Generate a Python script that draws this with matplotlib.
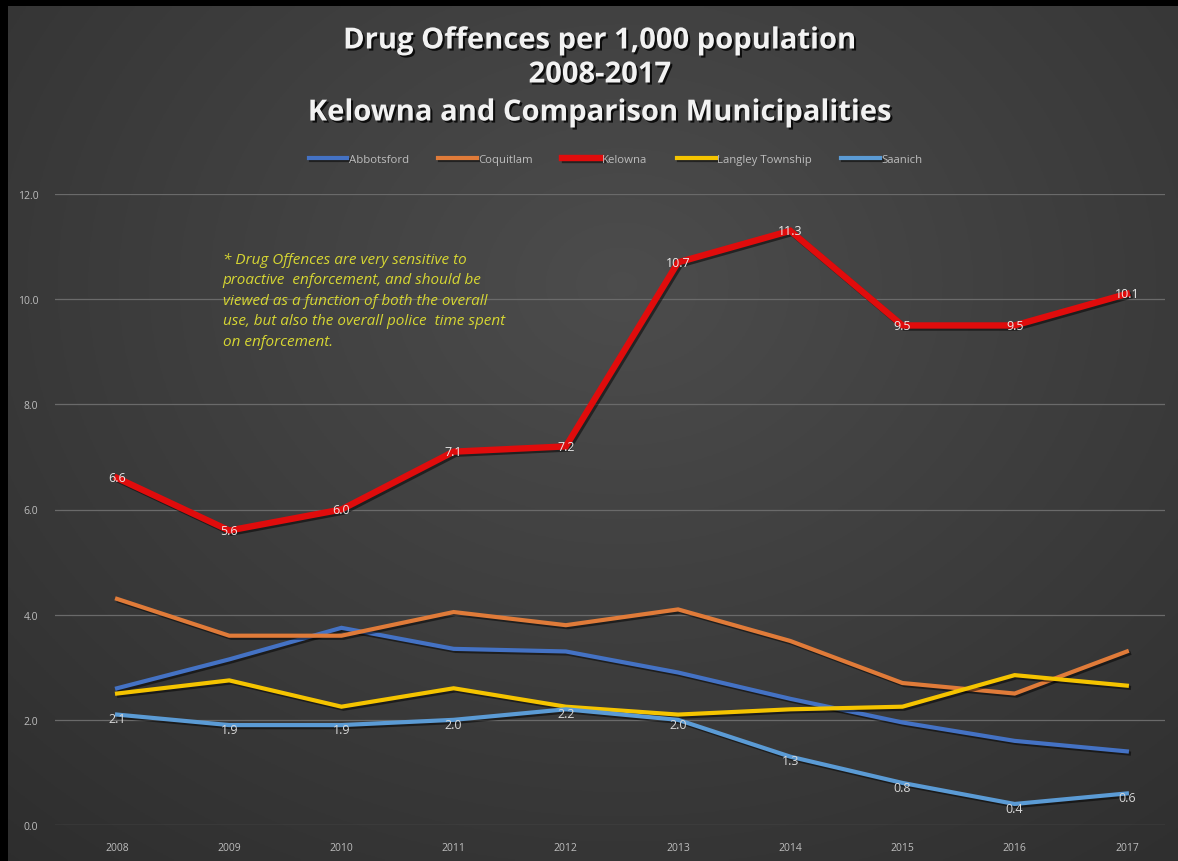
import numpy as np
import matplotlib.pyplot as plt
import matplotlib.patheffects as pe

# data
years = ['2008', '2009', '2010', '2011', '2012', '2013', '2014', '2015', '2016', '2017']
abbotsford = [2.6, 3.15, 3.75, 3.35, 3.3, 2.9, 2.4, 1.95, 1.6, 1.4]
coquitlam = [4.3, 3.6, 3.6, 4.05, 3.8, 4.1, 3.5, 2.7, 2.5, 3.3]
kelowna = [6.6, 5.6, 6.0, 7.1, 7.2, 10.7, 11.3, 9.5, 9.5, 10.1]
langley = [2.5, 2.75, 2.25, 2.6, 2.25, 2.1, 2.2, 2.25, 2.85, 2.65]
saanich = [2.1, 1.9, 1.9, 2.0, 2.2, 2.0, 1.3, 0.8, 0.4, 0.6]

yticks = [0, 2, 4, 6, 8, 10, 12]
note = ("* Drug Offences are very sensitive to\n"
        "proactive  enforcement, and should be\n"
        "viewed as a function of both the overall\n"
        "use, but also the overall police  time spent\n"
        "on enforcement.")

W, H = 1178, 862
fig = plt.figure(figsize=(W / 100, H / 100), dpi=100, facecolor='black')

# dark radial gradient background, black strip on top/left
bg = fig.add_axes([8 / W, 0, 1 - 8 / W, 1 - 7 / H])
bg.set_axis_off()
gx, gy = np.meshgrid(np.linspace(-1, 1, 400), np.linspace(-1, 1, 300))
r = np.sqrt((gx - 0.05) ** 2 + ((gy + 0.35) * 0.9) ** 2)
shade = 0.30 - 0.12 * np.clip(r, 0, 1.6) / 1.6
bg.imshow(np.dstack([shade, shade, shade]), aspect='auto', extent=[0, 1, 0, 1])

ax = fig.add_axes([55 / W, (H - 826) / H, 1110 / W, (826 - 195) / H])
ax.patch.set_alpha(0)

x = np.arange(len(years))
shadow = [pe.SimpleLineShadow(offset=(1.5, -1.5), alpha=0.5, shadow_color='black'), pe.Normal()]

series = [
    ('Abbotsford', abbotsford, '#4472c4', 3.0),
    ('Coquitlam', coquitlam, '#e07b39', 3.0),
    ('Kelowna', kelowna, '#e00c0c', 4.6),
    ('Langley Township', langley, '#f5c400', 3.0),
    ('Saanich', saanich, '#5b9bd5', 3.0),
]
for name, vals, col, lw in series:
    ax.plot(x, vals, color=col, lw=lw, label=name, solid_joinstyle='miter',
            path_effects=shadow, zorder=3)

# data labels on Kelowna and Saanich
for xi, v in zip(x, kelowna):
    ax.text(xi, v, f'{v:.1f}', ha='center', va='center', fontsize=9,
            color='#e8e8e8', family='Open Sans', zorder=5)
for xi, v in zip(x, saanich):
    ax.text(xi, v - 0.08, f'{v:.1f}', ha='center', va='center', fontsize=9,
            color='#d8d8d8', family='Open Sans', zorder=5)

ax.set_xlim(-0.553, 9.34)
ax.set_ylim(0, 12)
ax.set_yticks(yticks)
ax.set_yticklabels([f'{t:.1f}' for t in yticks])
ax.set_xticks(x)
ax.set_xticklabels(years)
ax.tick_params(length=0, colors='#bdbdbd', labelsize=7.5, pad=12)
ax.tick_params(axis='y', pad=12)
for lab in ax.get_xticklabels() + ax.get_yticklabels():
    lab.set_family('Open Sans')
ax.grid(axis='y', color='#6a6a6a', lw=0.9)
ax.set_axisbelow(True)
for s in ax.spines.values():
    s.set_visible(False)

ax.text(0.94, 10.9, note, fontsize=11, style='italic', color='#d6d633',
        family='Open Sans', va='top', ha='left', linespacing=1.5)

leg = ax.legend(loc='center', bbox_to_anchor=(0.505, 1.055), ncol=5, frameon=False,
                fontsize=8.2, handlelength=3.4, handletextpad=0.1, columnspacing=2.6)
for t in leg.get_texts():
    t.set_color('#bdbdbd')
    t.set_family('Open Sans')

title_fx = [pe.withSimplePatchShadow(offset=(1.5, -1.5), alpha=0.8, shadow_rgbFace='black')]
for txt, yy in [('Drug Offences per 1,000 population', 42),
                ('2008-2017', 76),
                ('Kelowna and Comparison Municipalities', 114)]:
    fig.text(0.509, 1 - yy / H, txt, ha='center', va='center', fontsize=21,
             fontweight='bold', color='#f2f2f2', family='Open Sans',
             path_effects=title_fx)

fig.savefig('out.png', dpi=100, facecolor='black')
